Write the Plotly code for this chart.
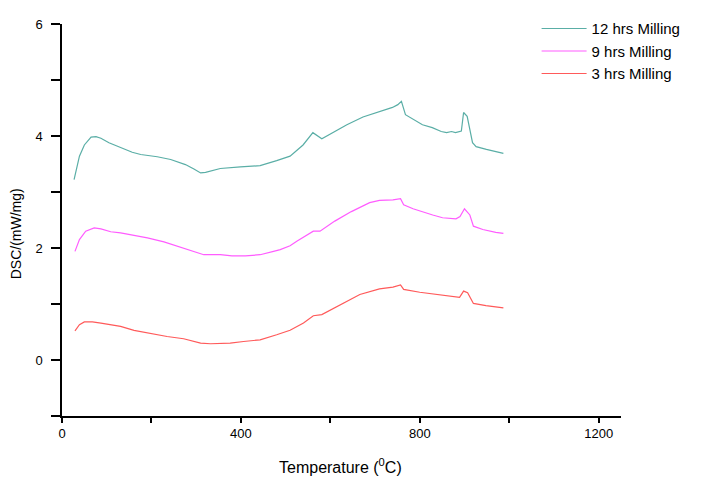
import plotly.graph_objects as go

# 12 hrs Milling
t12 = [27, 39, 50, 65, 76, 87, 105, 128, 157, 176, 213, 243, 276, 295, 310, 321, 354, 399, 443, 480, 510,
       539, 561, 581, 637, 673, 710, 739, 751, 759, 768, 784, 806, 828, 848, 860, 871, 880, 893, 898, 906,
       918, 926, 949, 971, 987]
y12 = [3.22, 3.64, 3.84, 3.98, 3.99, 3.96, 3.88, 3.80, 3.71, 3.67, 3.63, 3.58, 3.49, 3.41, 3.34, 3.35, 3.42,
       3.45, 3.47, 3.56, 3.64, 3.84, 4.06, 3.95, 4.20, 4.34, 4.43, 4.51, 4.56, 4.62, 4.38, 4.31, 4.20, 4.15,
       4.08, 4.06, 4.08, 4.06, 4.09, 4.42, 4.35, 3.88, 3.81, 3.76, 3.72, 3.69]

# 9 hrs Milling
t9 = [29, 39, 53, 72, 87, 109, 131, 154, 191, 228, 272, 295, 317, 354, 380, 410, 443, 473, 488, 510, 525,
      562, 577, 610, 647, 688, 710, 740, 757, 764, 785, 829, 851, 881, 890, 900, 907, 912, 920, 941, 970, 987]
y9 = [1.94, 2.15, 2.30, 2.36, 2.34, 2.29, 2.27, 2.24, 2.18, 2.11, 2.00, 1.94, 1.88, 1.88, 1.86, 1.86, 1.88,
      1.94, 1.97, 2.04, 2.12, 2.30, 2.30, 2.48, 2.65, 2.81, 2.85, 2.86, 2.88, 2.77, 2.70, 2.59, 2.54, 2.52,
      2.56, 2.70, 2.63, 2.59, 2.39, 2.33, 2.28, 2.26]

# 3 hrs Milling
t3 = [29, 39, 50, 68, 87, 109, 131, 161, 191, 235, 272, 310, 332, 376, 406, 443, 480, 510, 540, 562, 581,
      618, 666, 710, 740, 757, 764, 800, 837, 859, 889, 898, 907, 920, 948, 987]
y3 = [0.52, 0.63, 0.68, 0.68, 0.66, 0.63, 0.60, 0.53, 0.48, 0.42, 0.38, 0.30, 0.29, 0.30, 0.33, 0.36, 0.45,
      0.53, 0.66, 0.79, 0.81, 0.97, 1.17, 1.27, 1.30, 1.34, 1.26, 1.21, 1.17, 1.14, 1.12, 1.23, 1.20, 1.01,
      0.97, 0.93]

fig = go.Figure()
fig.add_trace(go.Scatter(x=t12, y=y12, mode="lines", name="12 hrs Milling",
                         line=dict(color="#5aaea6", width=1.2)))
fig.add_trace(go.Scatter(x=t9, y=y9, mode="lines", name="9 hrs Milling",
                         line=dict(color="#ff5cff", width=1.2)))
fig.add_trace(go.Scatter(x=t3, y=y3, mode="lines", name="3 hrs Milling",
                         line=dict(color="#ff5a5a", width=1.2)))

tickfont = dict(family="Liberation Sans Narrow, Liberation Sans, Arial", size=13, color="#000")
fig.update_layout(
    width=708, height=489,
    margin=dict(l=54, r=95, t=16, b=81, autoexpand=False),
    plot_bgcolor="white", paper_bgcolor="white",
    font=dict(family="Liberation Sans, Arial", color="#000"),
    showlegend=True,
    legend=dict(x=0.849, y=1.03, xanchor="left", yanchor="top", bgcolor="rgba(0,0,0,0)",
                font=dict(family="Liberation Sans, Arial", size=15, color="#000"),
                itemwidth=45, tracegroupgap=0),
    xaxis=dict(range=[0, 1250], showline=True, linecolor="#000", linewidth=1.5, showgrid=False,
               zeroline=False, ticks="outside", ticklen=5, tickwidth=1.5, tickcolor="#000",
               tick0=0, dtick=400, tickfont=tickfont, automargin=False,
               minor=dict(ticks="outside", dtick=200, ticklen=5, tickwidth=1.5, tickcolor="#000",
                          showgrid=False)),
    yaxis=dict(range=[-1, 6], showline=True, linecolor="#000", linewidth=1.5, showgrid=False,
               zeroline=False, ticks="outside", ticklen=9, tickwidth=1.5, tickcolor="#000",
               tick0=0, dtick=2, tickfont=tickfont, automargin=False, ticklabelstandoff=6,
               minor=dict(ticks="outside", dtick=1, ticklen=9, tickwidth=1.5, tickcolor="#000",
                          showgrid=False)),
    annotations=[
        dict(text="Temperature (<sup>0</sup>C)", xref="paper", yref="paper", x=0.499, y=-0.128,
             xanchor="center", yanchor="middle", showarrow=False,
             font=dict(family="Liberation Sans, Arial", size=16, color="#000")),
        dict(text="DSC/(mW/mg)", xref="paper", yref="paper", x=-0.082, y=0.464,
             xanchor="center", yanchor="middle", showarrow=False, textangle=-90,
             font=dict(family="Liberation Sans, Arial", size=14, color="#000")),
    ],
)

fig.write_html("out.html")
